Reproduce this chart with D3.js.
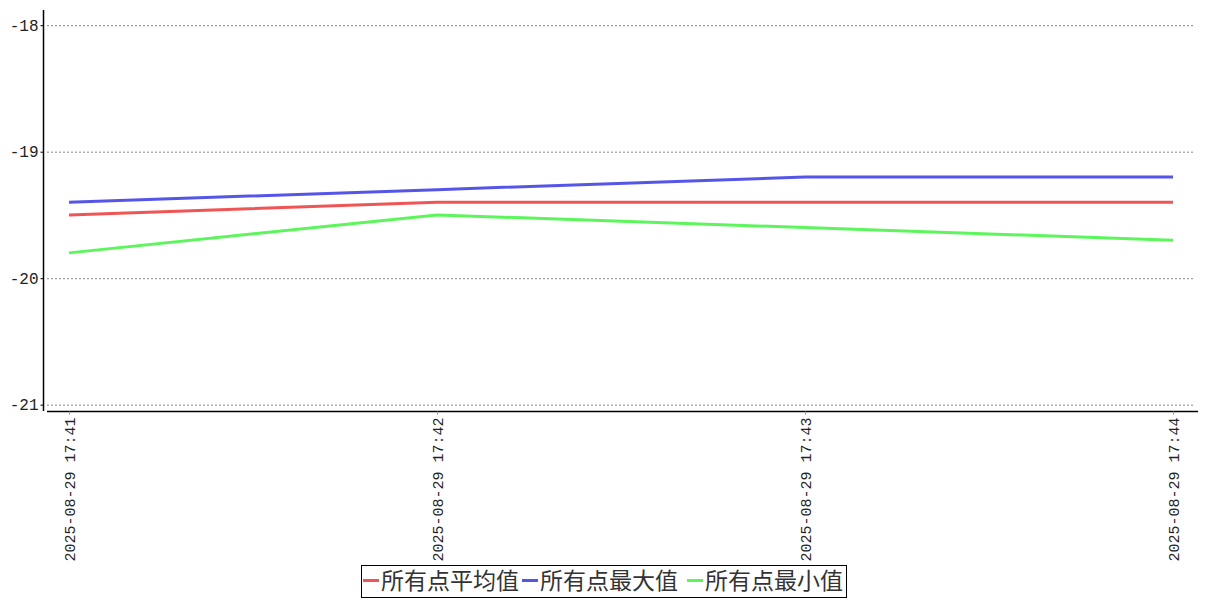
<!DOCTYPE html>
<html><head><meta charset="utf-8">
<script src="https://cdn.jsdelivr.net/npm/d3@7"></script>
<style>body{margin:0;background:#fff}svg{display:block}</style>
</head><body>
<svg id="c" width="1207" height="600"></svg>
<script>
const categories = ["2025-08-29 17:41","2025-08-29 17:42","2025-08-29 17:43","2025-08-29 17:44"];
const seriesNames = ["所有点平均值","所有点最大值","所有点最小值"];
const avgValues = [-19.5,-19.4,-19.4,-19.4];
const maxValues = [-19.4,-19.3,-19.2,-19.2];
const minValues = [-19.8,-19.5,-19.6,-19.7];
const yTicks = [-18,-19,-20,-21];
const colors = ["#f05555","#5555e8","#5cf55c"];

const svg = d3.select("#c");
const font = "'Liberation Mono','DejaVu Sans Mono',monospace";
const y = d3.scaleLinear().domain([-21.05,-17.88]).range([411,10]);
const x = d3.scalePoint().domain(categories).range([69,1173]);

// grid
svg.append("g").selectAll("line").data(yTicks).join("line")
  .attr("x1",47).attr("x2",1195).attr("y1",d=>y(d)+0.5).attr("y2",d=>y(d)+0.5)
  .attr("stroke","#888").attr("stroke-dasharray","2,2").attr("stroke-width",1);

// y axis
const ya = svg.append("g").attr("transform","translate(43.5,0)")
  .call(d3.axisLeft(y).tickValues(yTicks).tickSize(3).tickFormat(d=>"-"+Math.abs(d)));
ya.select(".domain").attr("d","M0,10V411").attr("stroke","#000").attr("stroke-width",1.5);
ya.selectAll("text").attr("font-family",font).attr("font-size",16).attr("fill","#222").attr("x",-5);

// x axis
const xa = svg.append("g").attr("transform","translate(0,411.5)")
  .call(d3.axisBottom(x).tickSize(3));
xa.select(".domain").attr("d","M47,0H1198").attr("stroke","#000").attr("stroke-width",1.5);
xa.selectAll(".tick line").attr("stroke","#999");
xa.selectAll("text").attr("font-family",font).attr("font-size",15).attr("fill","#222")
  .attr("transform","rotate(-90)").attr("text-anchor","end").attr("x",-6).attr("y",0).attr("dy","0.35em");

// lines
const series = [avgValues,maxValues,minValues];
const line = d3.line().x((d,i)=>x(categories[i])).y(d=>y(d));
series.forEach((s,k)=>{
  svg.append("path").datum(s).attr("d",line).attr("fill","none")
    .attr("stroke",colors[k]).attr("stroke-width",3);
});

// legend
const lg = svg.append("g");
lg.append("rect").attr("x",361.5).attr("y",565.5).attr("width",485).attr("height",32)
  .attr("fill","#fff").attr("stroke","#000").attr("stroke-width",1);
const starts = [363,522,687];
seriesNames.forEach((n,k)=>{
  lg.append("line").attr("x1",starts[k]).attr("x2",starts[k]+16).attr("y1",580.5).attr("y2",580.5)
    .attr("stroke",colors[k]).attr("stroke-width",3);
  lg.append("text").attr("x",starts[k]+18).attr("y",589).text(n)
    .attr("font-family","'Noto Sans CJK SC',sans-serif").attr("font-size",23).attr("fill","#333")
    .attr("textLength",138).attr("lengthAdjust","spacingAndGlyphs");
});
</script>
</body></html>
